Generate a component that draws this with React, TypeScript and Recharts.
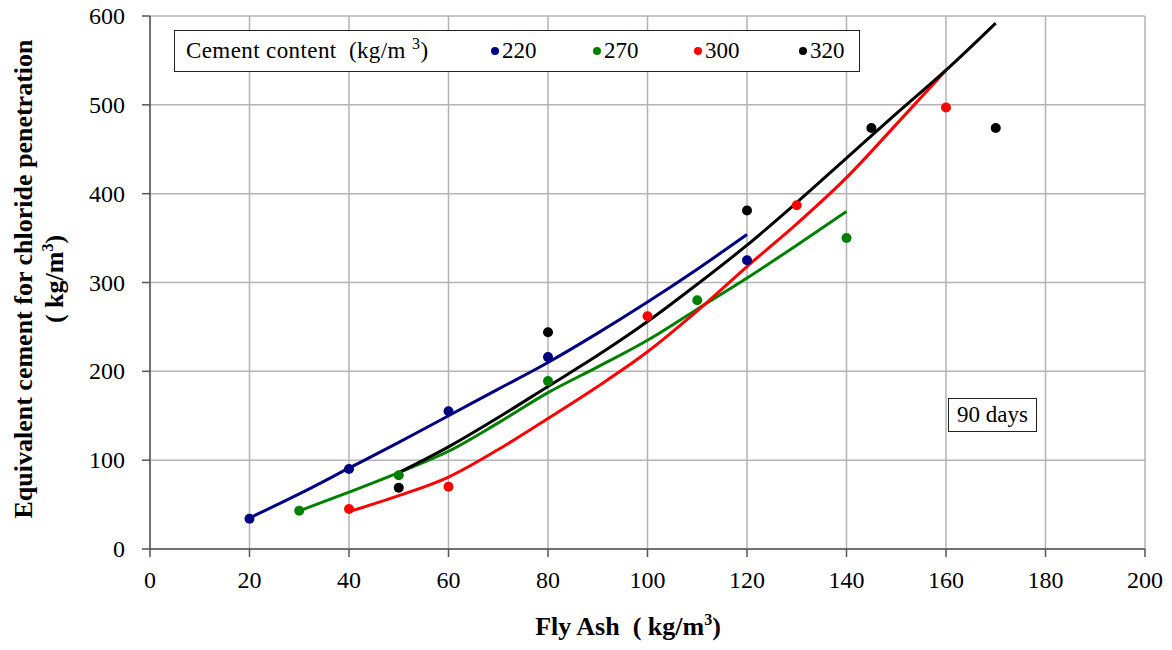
import {
  ComposedChart,
  Line,
  Scatter,
  XAxis,
  YAxis,
  CartesianGrid,
} from "recharts";

// measured points (fly ash kg/m3 -> equivalent cement kg/m3)
const ash220 = [20, 40, 60, 80, 120];
const val220 = [34, 90, 155, 216, 325];
const ash270 = [30, 50, 80, 110, 140];
const val270 = [43, 83, 189, 280, 350];
const ash300 = [40, 60, 100, 130, 160];
const val300 = [45, 70, 262, 387, 497];
const ash320 = [50, 80, 120, 145, 170];
const val320 = [69, 244, 381, 474, 474];

// trend curves
const trendAsh220 = [20, 30, 40, 50, 60, 70, 80, 90, 100, 110, 120];
const trend220 = [35, 62, 91, 120, 150, 180, 210, 243, 278, 315, 354];
const trendAsh270 = [30, 40, 50, 60, 70, 80, 90, 100, 110, 120, 130, 140];
const trend270 = [43, 64, 86, 110, 142, 176, 205, 235, 270, 305, 342, 380];
const trendAsh300 = [40, 50, 60, 70, 80, 90, 100, 110, 120, 130, 140, 150, 160];
const trend300 = [42, 60, 81, 112, 147, 183, 222, 268, 318, 366, 418, 478, 539];
const trendAsh320 = [50, 60, 70, 80, 90, 100, 110, 120, 130, 140, 150, 160, 170];
const trend320 = [86, 115, 148, 183, 218, 256, 298, 342, 390, 440, 490, 539, 592];

const xTicks = [0, 20, 40, 60, 80, 100, 120, 140, 160, 180, 200];
const yTicks = [0, 100, 200, 300, 400, 500, 600];

const series = [
  { name: "220", color: "#000080", ash: ash220, val: val220, tAsh: trendAsh220, tVal: trend220 },
  { name: "270", color: "#008000", ash: ash270, val: val270, tAsh: trendAsh270, tVal: trend270 },
  { name: "300", color: "#ff0000", ash: ash300, val: val300, tAsh: trendAsh300, tVal: trend300 },
  { name: "320", color: "#000000", ash: ash320, val: val320, tAsh: trendAsh320, tVal: trend320 },
];

const font = '"Times New Roman", "Liberation Serif", "DejaVu Serif", serif';

const Dot = (props: any) => {
  const { cx, cy, fill } = props;
  return <circle cx={cx} cy={cy} r={5} fill={fill} />;
};

const XTick = (props: any) => {
  const { x, y, payload } = props;
  return (
    <text x={x} y={y + 19} textAnchor="middle" style={{ fontFamily: font, fontSize: 24 }} fill="#000">
      {payload.value}
    </text>
  );
};

const YTick = (props: any) => {
  const { x, y, payload } = props;
  return (
    <text x={x} y={y + 8} textAnchor="end" style={{ fontFamily: font, fontSize: 24 }} fill="#000">
      {payload.value}
    </text>
  );
};

const sup = { fontSize: 16, verticalAlign: "super", lineHeight: 0 } as const;

export default function App() {
  return (
    <div
      style={{
        position: "relative",
        width: 1172,
        height: 642,
        margin: "-8px 0 0 -8px",
        fontFamily: font,
      }}
    >
      <ComposedChart
        width={1172}
        height={642}
        margin={{ top: 16, right: 27, left: 80, bottom: 53 }}
        style={{ fontFamily: font }}
      >
        <CartesianGrid stroke="#b3b3b3" strokeWidth={1.5} />
        <XAxis
          type="number"
          dataKey="x"
          domain={[0, 200]}
          ticks={xTicks}
          interval={0}
          tick={<XTick />}
          tickSize={8}
          tickMargin={12}
          stroke="#555"
          strokeWidth={1.5}
          height={40}
        />
        <YAxis
          type="number"
          dataKey="y"
          domain={[0, 600]}
          ticks={yTicks}
          interval={0}
          tick={<YTick />}
          tickSize={8}
          tickMargin={17}
          stroke="#555"
          strokeWidth={1.5}
          width={70}
        />
        {series.map((s) => (
          <Line
            key={"t" + s.name}
            data={s.tAsh.map((x, i) => ({ x, y: s.tVal[i] }))}
            dataKey="y"
            type="monotone"
            stroke={s.color}
            strokeWidth={3}
            dot={false}
            activeDot={false}
            isAnimationActive={false}
          />
        ))}
        {series.map((s) => (
          <Scatter
            key={"p" + s.name}
            data={s.ash.map((x, i) => ({ x, y: s.val[i] }))}
            dataKey="y"
            fill={s.color}
            shape={Dot}
            isAnimationActive={false}
          />
        ))}
      </ComposedChart>

      {/* legend box */}
      <div
        style={{
          position: "absolute",
          left: 174,
          top: 30,
          width: 686,
          height: 42,
          boxSizing: "border-box",
          border: "1.5px solid #222",
          background: "#fff",
          fontSize: 23,
          display: "flex",
          alignItems: "center",
        }}
      >
        <span style={{ position: "absolute", left: 11, whiteSpace: "nowrap", letterSpacing: 0.4 }}>
          Cement content&nbsp; (kg/m <span style={sup}>3</span>)
        </span>
        {series.map((s, i) => (
          <span
            key={s.name}
            style={{
              position: "absolute",
              left: [316, 418, 519, 624][i],
              display: "flex",
              alignItems: "center",
            }}
          >
            <span
              style={{ width: 8, height: 8, borderRadius: 4, background: s.color, marginRight: 3 }}
            />
            {s.name}
          </span>
        ))}
      </div>

      {/* 90 days box */}
      <div
        style={{
          position: "absolute",
          left: 948,
          top: 398,
          width: 89,
          height: 34,
          boxSizing: "border-box",
          border: "1.5px solid #222",
          background: "#fff",
          fontSize: 23,
          display: "flex",
          alignItems: "center",
          justifyContent: "center",
        }}
      >
        90 days
      </div>

      {/* y axis title */}
      <div style={{ position: "absolute", left: 39, top: 279, width: 0, height: 0 }}>
        <div
          style={{
            position: "absolute",
            transform: "translate(-50%, -50%) rotate(-90deg)",
            whiteSpace: "nowrap",
            fontWeight: "bold",
            fontSize: 26,
            textAlign: "center",
            lineHeight: "31px",
          }}
        >
          Equivalent cement for chloride penetration
          <br />( kg/m<span style={sup}>3</span>)
        </div>
      </div>

      {/* x axis title */}
      <div
        style={{
          position: "absolute",
          left: 0,
          width: 1256,
          top: 612,
          lineHeight: "30px",
          textAlign: "center",
          fontWeight: "bold",
          fontSize: 26,
          whiteSpace: "nowrap",
        }}
      >
        Fly Ash&nbsp; ( kg/m<span style={sup}>3</span>)
      </div>
    </div>
  );
}
